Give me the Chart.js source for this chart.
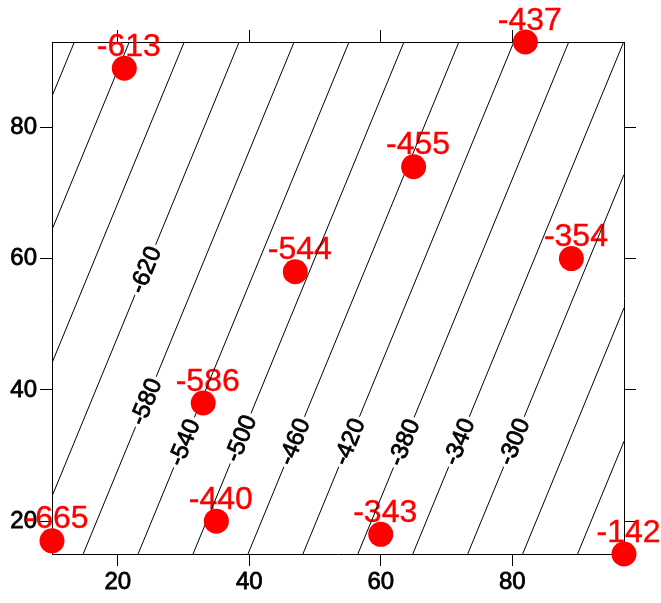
<!DOCTYPE html>
<html>
<head>
<meta charset="utf-8">
<script src="https://cdn.jsdelivr.net/npm/chart.js@4/dist/chart.umd.min.js"></script>
<style>
  html, body { margin: 0; padding: 0; background: #fff; }
  #wrap { width: 661px; height: 603px; }
</style>
</head>
<body>
<div id="wrap"><canvas id="c" width="661" height="603"></canvas></div>
<script>
// Sample locations and measured values
const sampleX = [10, 21, 33, 35, 47, 60, 65, 82, 89, 97];
const sampleY = [17, 89, 38, 20, 58, 18, 74, 93, 60, 15];
const sampleValue = [-665, -613, -586, -440, -544, -343, -455, -437, -354, -142];

// Contour levels of the first-order trend surface
const contourLevels = [-740, -700, -660, -620, -580, -540, -500, -460, -420, -380, -340, -300, -260, -220];
const labelledLevels = [-620, -580, -540, -500, -460, -420, -380, -340, -300];

const xTickValues = [20, 40, 60, 80];
const yTickValues = [20, 40, 60, 80];

// ---- least-squares plane z = a + b*x + c*y through the samples ----
function fitPlane(xs, ys, zs) {
  const n = xs.length;
  const mx = xs.reduce((s, v) => s + v, 0) / n;
  const my = ys.reduce((s, v) => s + v, 0) / n;
  const mz = zs.reduce((s, v) => s + v, 0) / n;
  let sxx = 0, syy = 0, sxy = 0, sxz = 0, syz = 0;
  for (let i = 0; i < n; i++) {
    const dx = xs[i] - mx, dy = ys[i] - my, dz = zs[i] - mz;
    sxx += dx * dx; syy += dy * dy; sxy += dx * dy; sxz += dx * dz; syz += dy * dz;
  }
  const det = sxx * syy - sxy * sxy;
  const b = (sxz * syy - sxy * syz) / det;
  const c = (sxx * syz - sxy * sxz) / det;
  return { a: mz - b * mx - c * my, b, c };
}
const plane = fitPlane(sampleX, sampleY, sampleValue);

const xMin = Math.min(...sampleX), xMax = Math.max(...sampleX);
const yMin = Math.min(...sampleY), yMax = Math.max(...sampleY);

// where a contour level crosses the border of the plotting region
function contourSegment(level) {
  const { a, b, c } = plane;
  const pts = [];
  for (const y of [yMin, yMax]) {
    const x = (level - a - c * y) / b;
    if (x >= xMin && x <= xMax) pts.push({ x, y });
  }
  for (const x of [xMin, xMax]) {
    const y = (level - a - b * x) / c;
    if (y > yMin && y < yMax) pts.push({ x, y });
  }
  return pts.length >= 2 ? pts.slice(0, 2) : null;
}

const FONT = "'Liberation Sans', Arial, Helvetica, sans-serif";

// y position (data units) at which each contour carries its label
const labelAtY = { '-620': 58.3, '-580': 38.2, '-540': 32, '-500': 32.6, '-460': 32.1,
                   '-420': 32.1, '-380': 32, '-340': 32.1, '-300': 32.1 };

const pointData = sampleX.map((x, i) => ({ x, y: sampleY[i], v: sampleValue[i] }));

const datasets = [{
  label: 'samples',
  data: pointData,
  pointRadius: 12.5,
  pointHoverRadius: 12.5,
  pointBackgroundColor: '#ff0000',
  pointBorderWidth: 0,
  showLine: false,
  clip: false
}];
contourLevels.forEach(level => {
  const seg = contourSegment(level);
  if (!seg) return;
  datasets.push({
    label: 'z = ' + level,
    data: seg,
    showLine: true,
    borderColor: '#000',
    borderWidth: 1,
    pointRadius: 0,
    fill: false
  });
});

// value labels beside the samples (drawn first, under the contours)
const valueLabels = {
  id: 'valueLabels',
  beforeDatasetsDraw(chart) {
    const { ctx, scales: { x, y } } = chart;
    ctx.save();
    ctx.font = '32px ' + FONT;
    ctx.fillStyle = '#ff0000';
    ctx.strokeStyle = '#ff0000';
    ctx.lineWidth = 0.4;
    ctx.textAlign = 'center';
    ctx.textBaseline = 'alphabetic';
    pointData.forEach(p => {
      const px = x.getPixelForValue(p.x) + 4.5, py = y.getPixelForValue(p.y) - 12.5;
      ctx.fillText(String(p.v), px, py);
      ctx.strokeText(String(p.v), px, py);
    });
    ctx.restore();
  }
};

// inline contour labels, drawn just before the sample markers
const contourLabels = {
  id: 'contourLabels',
  beforeDatasetDraw(chart, args) {
    if (args.index !== 0) return;
    const { ctx, scales: { x, y } } = chart;
    const { a, b, c } = plane;
    ctx.save();
    ctx.font = '24px ' + FONT;
    ctx.textAlign = 'center';
    ctx.textBaseline = 'middle';
    labelledLevels.forEach(level => {
      const yv = labelAtY[String(level)];
      const xv = (level - a - c * yv) / b;
      const px = x.getPixelForValue(xv), py = y.getPixelForValue(yv);
      // direction of the contour on screen
      const x2 = x.getPixelForValue(xv - c / b), y2 = y.getPixelForValue(yv + 1);
      const ang = Math.atan2(y2 - py, x2 - px);
      const text = String(level);
      const w = ctx.measureText(text).width;
      ctx.save();
      ctx.translate(px, py);
      ctx.rotate(ang);
      ctx.fillStyle = '#fff';
      ctx.fillRect(-w / 2 - 3, -10, w + 6, 20);
      ctx.fillStyle = '#000';
      ctx.strokeStyle = '#000';
      ctx.lineWidth = 0.8;
      ctx.fillText(text, 0, 1);
      ctx.strokeText(text, 0, 1);
      ctx.restore();
    });
    ctx.restore();
  }
};

const fixedTicks = values => scale => { scale.ticks = values.map(v => ({ value: v })); };

function axis(position, min, max, tickValues, showLabels, size) {
  const horizontal = position === 'top' || position === 'bottom';
  return {
    type: 'linear',
    position,
    min, max,
    afterBuildTicks: fixedTicks(tickValues),
    afterFit: s => { if (horizontal) s.height = size; else s.width = size; },
    border: { display: true, color: '#000', width: 1 },
    grid: { display: true, drawOnChartArea: false, drawTicks: true, tickLength: 12, color: '#000', lineWidth: 1 },
    ticks: { display: showLabels, color: '#000', padding: horizontal ? 2 : 3, maxRotation: 0,
             textStrokeColor: '#000', textStrokeWidth: 0.8,
             font: { family: FONT, size: 24 } }
  };
}

new Chart(document.getElementById('c'), {
  type: 'scatter',
  data: { datasets },
  options: {
    responsive: false,
    maintainAspectRatio: false,
    animation: false,
    events: [],
    layout: { padding: 0 },
    plugins: { legend: { display: false }, tooltip: { enabled: false } },
    scales: {
      x: axis('bottom', xMin, xMax, xTickValues, true, 49),
      y: axis('left', yMin, yMax, yTickValues, true, 52),
      x2: axis('top', xMin, xMax, xTickValues, false, 42),
      y2: axis('right', yMin, yMax, yTickValues, false, 37)
    }
  },
  plugins: [valueLabels, contourLabels]
});
</script>
</body>
</html>
